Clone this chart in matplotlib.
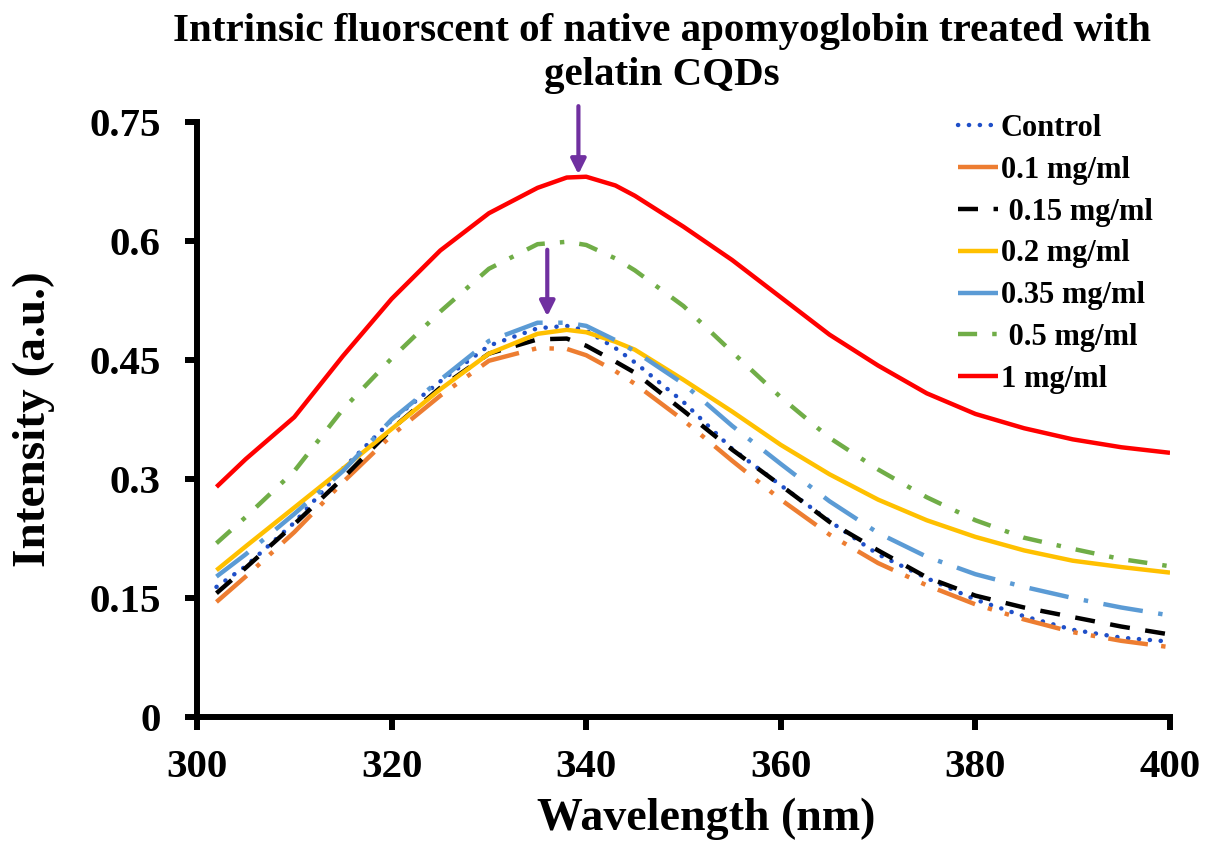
import matplotlib
matplotlib.use("Agg")
import matplotlib.pyplot as plt

plt.rcParams['font.family'] = ['Liberation Serif', 'DejaVu Serif']
plt.rcParams['font.weight'] = 'bold'

wavelength = [302, 305, 310, 315, 320, 325, 330, 335, 338, 340, 343, 345, 350,
              355, 360, 365, 370, 375, 380, 385, 390, 395, 400]

control = [0.164, 0.190, 0.245, 0.313, 0.374, 0.423, 0.468, 0.490, 0.493, 0.487, 0.465, 0.447, 0.397,
           0.338, 0.292, 0.247, 0.205, 0.175, 0.148, 0.127, 0.110, 0.100, 0.095]
c_01 = [0.145, 0.177, 0.233, 0.296, 0.355, 0.405, 0.449, 0.465, 0.464, 0.456, 0.436, 0.420, 0.374,
        0.323, 0.274, 0.230, 0.194, 0.166, 0.142, 0.123, 0.107, 0.096, 0.088]
c_015 = [0.156, 0.188, 0.243, 0.301, 0.363, 0.415, 0.458, 0.476, 0.477, 0.468, 0.448, 0.434, 0.386,
         0.337, 0.292, 0.246, 0.210, 0.176, 0.153, 0.138, 0.126, 0.114, 0.104]
c_02 = [0.185, 0.215, 0.264, 0.313, 0.363, 0.413, 0.458, 0.483, 0.488, 0.485, 0.473, 0.463, 0.425,
        0.385, 0.343, 0.306, 0.274, 0.248, 0.227, 0.210, 0.197, 0.189, 0.182]
c_035 = [0.177, 0.205, 0.256, 0.310, 0.375, 0.425, 0.474, 0.497, 0.497, 0.493, 0.475, 0.461, 0.420,
         0.367, 0.319, 0.272, 0.232, 0.202, 0.180, 0.164, 0.150, 0.138, 0.128]
c_05 = [0.219, 0.252, 0.310, 0.388, 0.452, 0.511, 0.565, 0.596, 0.599, 0.595, 0.578, 0.563, 0.518,
        0.460, 0.403, 0.352, 0.312, 0.277, 0.248, 0.226, 0.212, 0.199, 0.190]
c_1 = [0.290, 0.325, 0.378, 0.455, 0.527, 0.588, 0.635, 0.667, 0.680, 0.681, 0.670, 0.657, 0.618,
       0.576, 0.529, 0.482, 0.443, 0.408, 0.382, 0.364, 0.350, 0.340, 0.333]

labels = ['Control', '0.1 mg/ml', ' 0.15 mg/ml', '0.2 mg/ml', '0.35 mg/ml', ' 0.5 mg/ml', '1 mg/ml']
series = [control, c_01, c_015, c_02, c_035, c_05, c_1]
colors = ['#1F4FC8', '#ED7D31', '#000000', '#FFC000', '#5B9BD5', '#70AD47', '#FF0000']
styles = [(0, (0.05, 2.4)), (0, (9, 3, 1, 3, 1, 3)), (0, (4.5, 3.5)), '-',
          (0, (9, 3.5, 1, 3.5)), (0, (4.3, 3.4, 1, 3.4)), '-']
capstyles = ['round', 'butt', 'butt', 'butt', 'butt', 'butt', 'butt']

arrow_x = [339.2, 336.0]
arrow_from = [0.77, 0.589]
arrow_to = [0.684, 0.505]

fig = plt.figure(figsize=(12.18, 8.5), dpi=100)
ax = fig.add_axes([197/1218, 1 - 717/850, (1170-197)/1218, (717-122)/850])

for y, lab, col, ls, cs in zip(series, labels, colors, styles, capstyles):
    ln, = ax.plot(wavelength, y, color=col, lw=3.2, linestyle=ls, label=lab)
    ln.set_dash_capstyle(cs)
    ln.set_solid_capstyle('butt')
    ln.set_solid_joinstyle('round')

for xa, y0, y1 in zip(arrow_x, arrow_from, arrow_to):
    ax.annotate('', xy=(xa, y1), xytext=(xa, y0), annotation_clip=False,
                arrowprops=dict(arrowstyle='-|>,head_length=0.9,head_width=0.45',
                                color='#7030A0', lw=3, shrinkA=0, shrinkB=0))

ax.set_xlim(300, 400)
ax.set_ylim(0, 0.75)
ax.set_xticks([300, 320, 340, 360, 380, 400])
ax.set_yticks([0, 0.15, 0.3, 0.45, 0.6, 0.75])
ax.set_yticklabels(['0', '0.15', '0.3', '0.45', '0.6', '0.75'])
for s in ['top', 'right']:
    ax.spines[s].set_visible(False)
for s in ['left', 'bottom']:
    ax.spines[s].set_linewidth(4.3)
ax.tick_params(axis='both', direction='out', length=9, width=4.3, labelsize=29.5)
ax.tick_params(axis='y', pad=17)
ax.tick_params(axis='x', pad=14)
for t in ax.get_xticklabels() + ax.get_yticklabels():
    t.set_fontweight('bold')

ax.set_xlabel('Wavelength (nm)', fontsize=33, fontweight='bold')
ax.xaxis.set_label_coords((706-197)/973, -0.136)
ax.set_ylabel('Intensity (a.u.)', fontsize=34, fontweight='bold', va='center')
ax.yaxis.set_label_coords((34-197)/973, 0.5)

fig.text(662/1218, 1 - 13/850,
         'Intrinsic fluorscent of native apomyoglobin treated with\ngelatin CQDs',
         ha='center', va='top', fontsize=29.5, fontweight='bold', linespacing=1.25)

leg = ax.legend(loc='upper left', bbox_to_anchor=(958/1218, 1 - 114/850),
                bbox_transform=fig.transFigure, frameon=False, fontsize=22,
                handlelength=1.3, handletextpad=0.1, labelspacing=0.42,
                borderpad=0, borderaxespad=0)
for t in leg.get_texts():
    t.set_fontweight('bold')

fig.savefig('out.png', dpi=100)
